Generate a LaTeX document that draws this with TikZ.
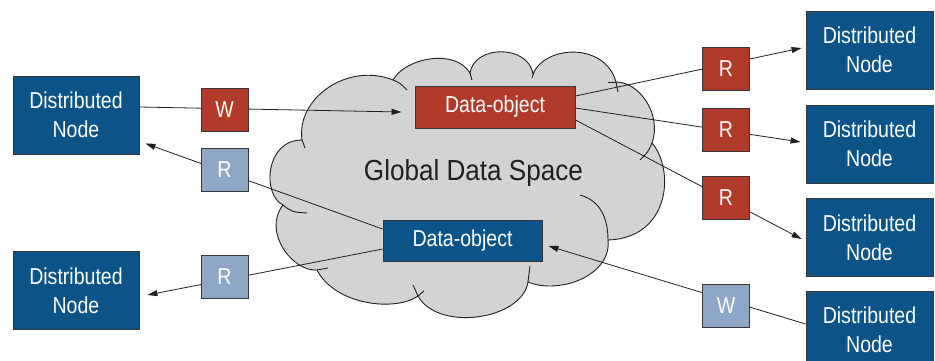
\documentclass[tikz,border=0pt]{standalone}
\usepackage{fontspec}
\setmainfont{Liberation Sans}
\newfontfamily\condfont[FakeStretch=0.85]{Liberation Sans}
\newfontfamily\widefont[FakeStretch=0.9]{Liberation Sans}
\usetikzlibrary{arrows.meta}
\definecolor{nodeblue}{RGB}{12,84,136}
\definecolor{objred}{RGB}{178,58,42}
\definecolor{paleblue}{RGB}{143,167,199}
\definecolor{cloudgray}{RGB}{209,211,212}
\definecolor{inkgray}{RGB}{35,31,32}
\definecolor{boxline}{RGB}{55,55,55}
\pgfdeclarelayer{cloudlayer}
\pgfdeclarelayer{linelayer}
\pgfsetlayers{cloudlayer,linelayer,main}
\begin{document}
\begin{tikzpicture}[x=1pt,y=-1pt,
  every node/.style={inner sep=0pt, text=white},
  boxbase/.style={draw=boxline, line width=0.9pt},
  dnode/.style={boxbase, fill=nodeblue, minimum width=126pt, minimum height=78pt,
    align=center, font=\condfont\fontsize{23}{29}\selectfont},
  tagred/.style={boxbase, fill=objred, minimum width=47pt, minimum height=43pt,
    font=\condfont\fontsize{23}{29}\selectfont},
  tagpale/.style={tagred, fill=paleblue},
  dataobj/.style={boxbase, minimum height=42pt, font=\condfont\fontsize{23}{29}\selectfont},
  conn/.style={draw=inkgray, line width=0.8pt},
  arr/.style={conn, -{Triangle[length=10pt,width=6pt]}},
  cloudline/.style={draw=inkgray, line width=0.9pt}]
\useasboundingbox (0,0) rectangle (935,360);

% distributed nodes
\node[dnode] (dn1) at (76,115)   {Distributed\\Node};
\node[dnode] (dn2) at (76,290.5) {Distributed\\Node};
\node[dnode, minimum width=127pt] (rn1) at (869.5,50)    {Distributed\\Node};
\node[dnode, minimum width=127pt] (rn2) at (869.5,144)   {Distributed\\Node};
\node[dnode, minimum width=127pt] (rn3) at (869.5,237.5) {Distributed\\Node};
\node[dnode, minimum width=127pt] (rn4) at (869.5,330)   {Distributed\\Node};

% data objects
\node[dataobj, fill=objred, minimum width=160pt] (rdo) at (495,107) {Data-object};
\node[dataobj, fill=nodeblue, minimum width=159pt, minimum height=41pt] (bdo) at (462.5,240.5) {Data-object};

% read / write tags
\node[tagred]  (w1) at (224.5,109.5) {W};
\node[tagpale] (ra) at (224.5,169.5) {R};
\node[tagpale] (rb) at (224.5,276.5) {R};
\node[tagred]  (r1) at (726,68.5)  {R};
\node[tagred]  (r2) at (726,129.5) {R};
\node[tagred]  (r3) at (726,197.5) {R};
\node[tagpale] (w2) at (726,305.5) {W};

% cloud label
\node[anchor=base, text=inkgray, font=\widefont\fontsize{29}{30}\selectfont] (gds)
  at (473.5,180) {Global Data Space};

% connectors (tags sit on top of them)
\begin{pgfonlayer}{linelayer}
  \draw[arr] ([yshift=8pt]dn1.east) -- ([xshift=-13pt,yshift=-5pt]rdo.west);
  \draw[arr] ([yshift=11.5pt]bdo.west) -- ([xshift=6pt,yshift=11pt]dn1.south east);
  \draw[arr] ([yshift=-8.5pt]bdo.west) -- ([xshift=8pt,yshift=-4.5pt]dn2.east);
  \draw[arr] ([yshift=11pt]rdo.east) -- ([xshift=-4pt,yshift=2pt]rn1.west);
  \draw[arr] ([yshift=-1pt]rdo.east) -- ([xshift=-5pt,yshift=2pt]rn2.west);
  \draw[arr] ([yshift=-13pt]rdo.east) -- ([xshift=-4pt,yshift=-1.5pt]rn3.west);
  \draw[arr] ([yshift=6pt]rn4.west) -- ([xshift=6pt,yshift=-5.5pt]bdo.east);
\end{pgfonlayer}

% the cloud
\begin{pgfonlayer}{cloudlayer}
  \path[fill=cloudgray, cloudline] (302,140)
    .. controls (296,98) and (348,62) .. (393,80)
    .. controls (405,58) and (455,48) .. (470,73)
    .. controls (474,45) and (528,44) .. (533,74)
    .. controls (545,45) and (605,42) .. (616,82)
    .. controls (640,82) and (662,115) .. (652,143)
    .. controls (675,170) and (670,238) .. (608,240)
    .. controls (612,275) and (560,295) .. (528,282)
    .. controls (522,320) and (438,332) .. (418,296)
    .. controls (395,312) and (335,305) .. (317,270)
    .. controls (293,272) and (262,232) .. (283,205)
    .. controls (262,195) and (265,140) .. (302,140)
    -- cycle;
  % inner edges of the overlapping puffs
  \draw[cloudline] (302,140) .. controls (303,144) .. (305,148);
  \draw[cloudline] (393,80) .. controls (400,83) .. (407,90);
  \draw[cloudline] (470,73) -- (472,80);
  \draw[cloudline] (534,72) -- (532,78);
  \draw[cloudline] (616,82) .. controls (617,87) .. (618,92);
  \draw[cloudline] (608,82) -- (616,82);
  \draw[cloudline] (652,143) .. controls (648,152) .. (640,160);
  \draw[cloudline] (608,240) .. controls (608,215) and (598,200) .. (580,195);
  \draw[cloudline] (530,266) -- (528,282);
  \draw[cloudline] (418,296) .. controls (416,290) .. (413,285);
  \draw[cloudline] (424,291) -- (418,296);
  \draw[cloudline] (317,270) -- (328,268);
  \draw[cloudline] (283,205) .. controls (292,212) .. (307,213);
\end{pgfonlayer}
\end{tikzpicture}
\end{document}
